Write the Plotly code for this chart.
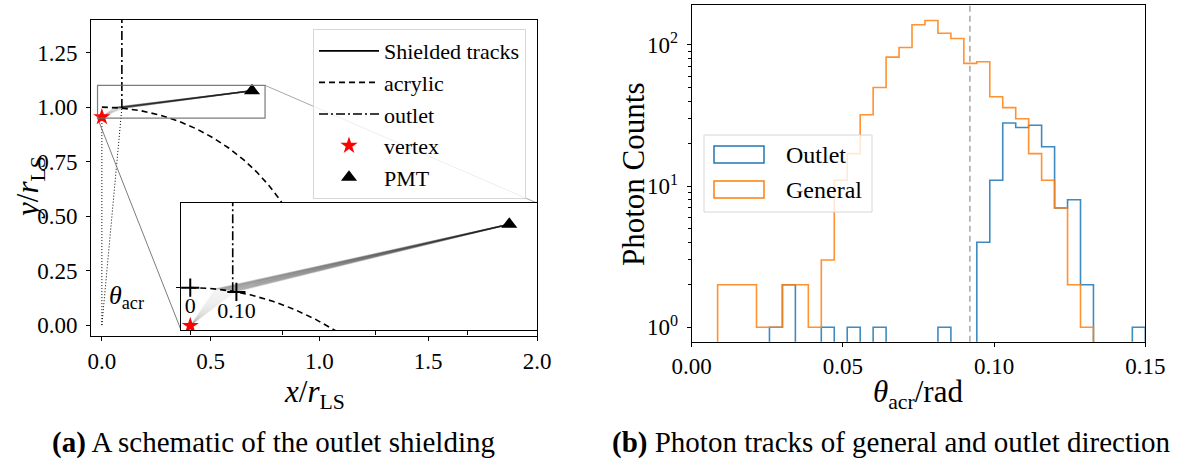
import numpy as np
import plotly.graph_objects as go

SERIF = "Liberation Serif"
W, H = 1182, 468

# ---------------- schematic geometry (units of r_LS) ----------------
ACRYLIC_R = 1.0
VERTEX_XY = [0.0, 0.955]
PMT_XY = [0.69, 1.075]
OUTLET_THETA = 0.092            # rad, edge of the outlet opening
TRACK_THETAS = [0.055, 0.058, 0.061, 0.064, 0.067, 0.070, 0.073, 0.076,
                0.079, 0.082, 0.085, 0.088, 0.091, 0.094, 0.097]
MARK_THETAS = [0.0, 0.10]
MARK_LABELS = ["0", "0.10"]
ZOOM_X = [-0.02, 0.75]
ZOOM_Y = [0.95, 1.10]

# ---------------- photon counts per theta_acr bin ----------------
BIN_LO, BIN_HI, N_BINS = 0.0, 0.15, 35
OUTLET_COUNTS = [0, 0, 0, 0, 0, 0, 1, 2, 0, 0, 1, 0, 1, 0, 1, 0, 0, 0, 0, 1,
                 0, 0, 4, 11, 28, 26, 27, 19, 7, 8, 2, 0, 0, 0, 1]
GENERAL_COUNTS = [0, 0, 2, 2, 2, 1, 1, 2, 2, 1, 3, 11, 17, 32, 50, 82, 96, 139,
                  149, 121, 111, 74, 76, 43, 36, 30, 17, 11, 7, 2, 1, 0, 0, 0, 0]

# ---------------- axes ----------------
MAIN_XRANGE = [-0.05, 2.0]
MAIN_YRANGE = [-0.05, 1.40]
MAIN_XTICKS = [0.0, 0.5, 1.0, 1.5, 2.0]
MAIN_YTICKS = [0.0, 0.25, 0.5, 0.75, 1.0, 1.25]
INSET_XTICKS = [0.0, 0.2, 0.4, 0.6]
INSET_YTICKS = [1.0]
HIST_XTICKS = [0.0, 0.05, 0.10, 0.15]
HIST_YTICKS = [1, 10, 100]
HIST_YTEXT = ["10<sup>0</sup>", "10<sup>1</sup>", "10<sup>2</sup>"]
HIST_YMINOR = [2, 3, 4, 5, 6, 7, 8, 9, 20, 30, 40, 50, 60, 70, 80, 90, 200]
HIST_YRANGE_LOG = [-0.102, 2.283]

# panel boxes in pixels: left, top, right, bottom
MAIN_BOX = (91, 20, 537, 336)
INSET_BOX = (181, 203, 537, 330)
HIST_BOX = (691.7, 5, 1145.3, 341.7)


def px(xp):
    return xp / W


def py(yp):
    return 1 - yp / H


def domains(box):
    l, t, r, b = box
    return [px(l), px(r)], [py(b), py(t)]


def main_data_from_px(xp, yp):
    l, t, r, b = MAIN_BOX
    x = MAIN_XRANGE[0] + (xp - l) / (r - l) * (MAIN_XRANGE[1] - MAIN_XRANGE[0])
    y = MAIN_YRANGE[0] + (b - yp) / (b - t) * (MAIN_YRANGE[1] - MAIN_YRANGE[0])
    return x, y


fig = go.Figure()

# ---------- schematic scene, drawn in main axes and in the zoomed inset ----------
arc_a = np.linspace(0, np.pi / 2, 400)
arc_x = ACRYLIC_R * np.sin(arc_a)
arc_y = ACRYLIC_R * np.cos(arc_a)
out_x = ACRYLIC_R * np.sin(OUTLET_THETA)
out_y = ACRYLIC_R * np.cos(OUTLET_THETA)


def add_scene(xa, ya, legend):
    # faint photon paths: vertex -> acrylic surface
    for th in TRACK_THETAS:
        sx, sy = ACRYLIC_R * np.sin(th), ACRYLIC_R * np.cos(th)
        fig.add_trace(go.Scatter(x=[VERTEX_XY[0], sx], y=[VERTEX_XY[1], sy], mode="lines",
                                 line=dict(color="rgba(0,0,0,0.035)", width=1.5),
                                 showlegend=False, hoverinfo="skip", xaxis=xa, yaxis=ya))
    # acrylic surface -> PMT
    for th in TRACK_THETAS:
        sx, sy = ACRYLIC_R * np.sin(th), ACRYLIC_R * np.cos(th)
        fig.add_trace(go.Scatter(x=[sx, PMT_XY[0]], y=[sy, PMT_XY[1]], mode="lines",
                                 line=dict(color="rgba(0,0,0,0.13)", width=1.5),
                                 showlegend=False, hoverinfo="skip", xaxis=xa, yaxis=ya))
    if legend:
        fig.add_trace(go.Scatter(x=[None], y=[None], mode="lines", name="Shielded tracks",
                                 line=dict(color="black", width=1.8), xaxis=xa, yaxis=ya))
    fig.add_trace(go.Scatter(x=arc_x, y=arc_y, mode="lines", name="acrylic",
                             line=dict(color="black", width=1.6, dash="6px,4px"),
                             showlegend=legend, hoverinfo="skip", xaxis=xa, yaxis=ya))
    fig.add_trace(go.Scatter(x=[out_x, out_x], y=[out_y, MAIN_YRANGE[1]], mode="lines",
                             name="outlet",
                             line=dict(color="black", width=1.6, dash="9px,3px,2px,3px"),
                             showlegend=legend, hoverinfo="skip", xaxis=xa, yaxis=ya))
    fig.add_trace(go.Scatter(x=[VERTEX_XY[0]], y=[VERTEX_XY[1]], mode="markers", name="vertex",
                             marker=dict(symbol="star", size=13, color="red",
                                         line=dict(width=0)),
                             showlegend=legend, xaxis=xa, yaxis=ya))
    fig.add_trace(go.Scatter(x=[PMT_XY[0]], y=[PMT_XY[1]], mode="markers", name="PMT",
                             marker=dict(symbol="triangle-up", size=14, color="black",
                                         line=dict(width=0)),
                             showlegend=legend, xaxis=xa, yaxis=ya))


# dotted construction lines from the centre
fig.add_trace(go.Scatter(x=[0, VERTEX_XY[0]], y=[0, VERTEX_XY[1]], mode="lines",
                         line=dict(color="black", width=1, dash="1px,2px"),
                         showlegend=False, hoverinfo="skip", xaxis="x", yaxis="y"))
fig.add_trace(go.Scatter(x=[0, out_x], y=[0, out_y], mode="lines",
                         line=dict(color="black", width=1, dash="1px,2px"),
                         showlegend=False, hoverinfo="skip", xaxis="x", yaxis="y"))

# zoom indicator: connectors to the inset corners
bl = main_data_from_px(INSET_BOX[0], INSET_BOX[3])
tr = main_data_from_px(INSET_BOX[2], INSET_BOX[1])
fig.add_trace(go.Scatter(x=[ZOOM_X[0], bl[0]], y=[ZOOM_Y[0], bl[1]], mode="lines",
                         line=dict(color="rgba(110,110,110,0.9)", width=1),
                         showlegend=False, hoverinfo="skip", xaxis="x", yaxis="y"))
fig.add_trace(go.Scatter(x=[ZOOM_X[1], tr[0]], y=[ZOOM_Y[1], tr[1]], mode="lines",
                         line=dict(color="rgba(110,110,110,0.6)", width=1),
                         showlegend=False, hoverinfo="skip", xaxis="x", yaxis="y"))

add_scene("x", "y", legend=True)
add_scene("x2", "y2", legend=False)

# angle markers on the acrylic surface inside the inset
fig.add_trace(go.Scatter(
    x=[ACRYLIC_R * np.sin(t) for t in MARK_THETAS],
    y=[ACRYLIC_R * np.cos(t) for t in MARK_THETAS],
    mode="markers+text", text=MARK_LABELS, textposition="bottom center",
    textfont=dict(family=SERIF, size=22, color="black"),
    marker=dict(symbol="cross-thin", size=13, color="black", line=dict(color="black", width=2)),
    showlegend=False, hoverinfo="skip", xaxis="x2", yaxis="y2"))

# ---------- histogram of theta_acr ----------
edges = np.linspace(BIN_LO, BIN_HI, N_BINS + 1)
FLOOR = 1e-3


def step_xy(counts):
    c = [v if v > 0 else FLOOR for v in counts]
    xs = [edges[0]] + list(edges[:-1]) + [edges[-1], edges[-1]]
    ys = [FLOOR] + c + [c[-1], FLOOR]
    return xs, ys


for counts, color in [(OUTLET_COUNTS, "#1f77b4"), (GENERAL_COUNTS, "#ff7f0e")]:
    xs, ys = step_xy(counts)
    fig.add_trace(go.Scatter(x=xs, y=ys, mode="lines", line=dict(color=color, width=1.6, shape="hv"),
                             opacity=0.85, showlegend=False, hoverinfo="skip",
                             xaxis="x3", yaxis="y3"))

# ---------- axes ----------
tickfont = dict(family=SERIF, size=23, color="black")
base = dict(showline=True, linecolor="black", linewidth=1, mirror=True, ticks="outside",
            ticklen=4, tickwidth=1, tickcolor="black", showgrid=False, zeroline=False,
            tickfont=tickfont, automargin=False)

mx, my = domains(MAIN_BOX)
ix, iy = domains(INSET_BOX)
hx, hy = domains(HIST_BOX)

fig.update_layout(
    template="none",
    xaxis=dict(base, domain=mx, range=MAIN_XRANGE, anchor="y", tickmode="array",
               tickvals=MAIN_XTICKS, tickformat=".1f"),
    yaxis=dict(base, domain=my, range=MAIN_YRANGE, anchor="x", tickmode="array",
               tickvals=MAIN_YTICKS, tickformat=".2f", ticklabelstandoff=4),
    xaxis2=dict(base, domain=ix, range=ZOOM_X, anchor="y2", tickmode="array",
                tickvals=INSET_XTICKS, showticklabels=False),
    yaxis2=dict(base, domain=iy, range=ZOOM_Y, anchor="x2", tickmode="array",
                tickvals=INSET_YTICKS, showticklabels=False),
    xaxis3=dict(base, domain=hx, range=[BIN_LO, BIN_HI], anchor="y3", tickmode="array",
                tickvals=HIST_XTICKS, tickformat=".2f"),
    yaxis3=dict(base, domain=hy, type="log", range=HIST_YRANGE_LOG, anchor="x3",
                tickmode="array", tickvals=HIST_YTICKS, ticktext=HIST_YTEXT,
                ticklabelstandoff=4,
                minor=dict(tickmode="array", tickvals=HIST_YMINOR, ticks="outside",
                           ticklen=2.5, tickwidth=0.8, tickcolor="black")),
)

shapes = []
# white backdrop for the inset (drawn in the inset subplot, under its traces)
shapes.append(dict(type="rect", xref="x2", yref="y2", x0=ZOOM_X[0], x1=ZOOM_X[1],
                   y0=ZOOM_Y[0], y1=ZOOM_Y[1], fillcolor="white", line=dict(width=0),
                   layer="below"))
# zoom region outline in the main axes
shapes.append(dict(type="rect", xref="x", yref="y", x0=ZOOM_X[0], x1=ZOOM_X[1],
                   y0=ZOOM_Y[0], y1=ZOOM_Y[1], line=dict(color="rgba(110,110,110,0.9)", width=1.2),
                   layer="above"))
# outlet edge angle on the histogram
shapes.append(dict(type="line", xref="x3", yref="y3 domain", x0=OUTLET_THETA, x1=OUTLET_THETA,
                   y0=0, y1=1, line=dict(color="rgba(150,150,150,0.85)", width=1.5, dash="6px,4px"),
                   layer="above"))
# histogram legend box
LEG = (704, 135, 872, 212)
shapes.append(dict(type="rect", xref="paper", yref="paper", x0=px(LEG[0]), x1=px(LEG[2]),
                   y0=py(LEG[3]), y1=py(LEG[1]), fillcolor="rgba(255,255,255,0.8)",
                   line=dict(color="#d6d6d6", width=1), layer="above"))
for (top, bot), color in [((146, 163), "#1f77b4"), ((181, 198), "#ff7f0e")]:
    shapes.append(dict(type="rect", xref="paper", yref="paper", x0=px(714), x1=px(764),
                       y0=py(bot), y1=py(top), fillcolor="rgba(0,0,0,0)",
                       line=dict(color=color, width=1.5), layer="above"))

annotations = []


def ann(text, x, y, size, xanchor="center", yanchor="middle", angle=0, xref="paper", yref="paper"):
    annotations.append(dict(text=text, x=x, y=y, xref=xref, yref=yref, showarrow=False,
                            xanchor=xanchor, yanchor=yanchor, textangle=angle,
                            font=dict(family=SERIF, size=size, color="black")))


ann("Outlet", px(784), py(155), 24, xanchor="left")
ann("General", px(784), py(190), 24, xanchor="left")
ann("<i>θ</i><sub>acr</sub>", 0.022, 0.13, 26, xanchor="left", xref="x", yref="y")
ann("<i>y</i>/<i>r</i><sub>LS</sub>", px(30), py(188), 31, angle=-90)
ann("<i>x</i>/<i>r</i><sub>LS</sub>", px(314), py(394), 31)
ann("Photon Counts", px(633), py(175), 31, angle=-90)
ann("<i>θ</i><sub>acr</sub>/rad", px(918), py(394), 31)
ann("<b>(a)</b> A schematic of the outlet shielding", px(50), py(442), 29, xanchor="left")
ann("<b>(b)</b> Photon tracks of general and outlet direction", px(610), py(442), 29, xanchor="left")

fig.update_layout(
    width=W, height=H, margin=dict(l=0, r=0, t=0, b=0, pad=0),
    paper_bgcolor="white", plot_bgcolor="white",
    font=dict(family=SERIF, color="black"),
    shapes=shapes, annotations=annotations,
    showlegend=True,
    legend=dict(x=px(526), y=py(29), xanchor="right", yanchor="top",
                bgcolor="rgba(255,255,255,0.8)", bordercolor="#d6d6d6", borderwidth=1,
                font=dict(family=SERIF, size=22, color="black"), itemwidth=60,
                tracegroupgap=0),
)

fig.write_html("out.html")
